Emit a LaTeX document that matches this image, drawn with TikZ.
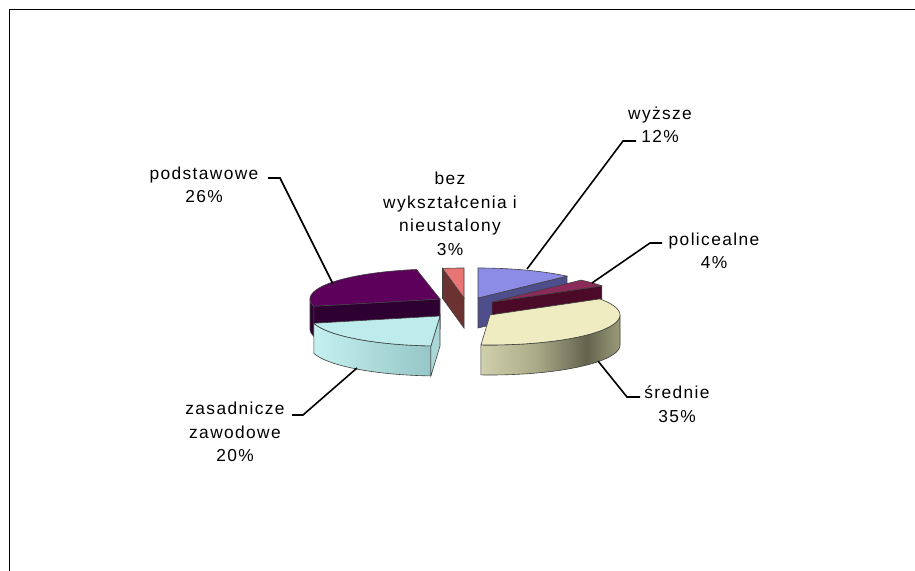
\documentclass[tikz,border=0pt]{standalone}
\usepackage{fontspec}
\newfontfamily\labfont[LetterSpace=8]{Liberation Sans}
\definecolor{podTop}{RGB}{92,0,92}
\definecolor{podSide}{RGB}{46,0,50}
\definecolor{zasTop}{RGB}{190,236,236}
\definecolor{zasL}{RGB}{196,240,240}
\definecolor{zasR}{RGB}{150,198,198}
\definecolor{zasFace}{RGB}{170,214,214}
\definecolor{bezTop}{RGB}{232,116,116}
\definecolor{bezSide}{RGB}{108,50,50}
\definecolor{wyzTop}{RGB}{140,140,230}
\definecolor{wyzSide}{RGB}{78,78,140}
\definecolor{polTop}{RGB}{140,42,90}
\definecolor{polSide}{RGB}{74,10,40}
\definecolor{sreTop}{RGB}{238,236,192}
\definecolor{sreA}{RGB}{208,208,172}
\definecolor{sreB}{RGB}{170,170,136}
\definecolor{sreC}{RGB}{100,100,78}
\definecolor{sreD}{RGB}{155,155,122}
\pgfdeclarehorizontalshading{sreshade}{100bp}{color(0bp)=(sreA); color(25bp)=(sreA); color(45bp)=(sreB); color(63bp)=(sreC); color(75bp)=(sreD); color(100bp)=(sreD)}
\def\rx{130}
\def\ry{30}
\def\hh{30}
\newcommand\slicetop[5]{%
  \path[draw=black!75, line width=0.45pt, fill=#5] (#1,#2) -- plot[domain=#3:#4, samples=40] ({#1+\rx*sin(\x)},{#2-\ry*cos(\x)}) -- cycle;}
\newcommand\sliceside[5]{%
  \path[draw=black!75, line width=0.45pt, #5] plot[domain=#3:#4, samples=40] ({#1+\rx*sin(\x)},{#2-\ry*cos(\x)}) -- plot[domain=#4:#3, samples=40] ({#1+\rx*sin(\x)},{#2+\hh-\ry*cos(\x)}) -- cycle;}
\newcommand\radface[4]{%
  \path[draw=black!75, line width=0.45pt, #4] (#1,#2) -- ({#1+\rx*sin(#3)},{#2-\ry*cos(#3)}) -- ++(0,\hh) -- (#1,#2+\hh) -- cycle;}
\tikzset{
  lab/.style={font={\labfont\fontsize{13}{17.6}\selectfont}, align=center, inner sep=0pt},
  leader/.style={draw=black, line width=1.2pt},
}
\begin{document}
\begin{tikzpicture}[x=0.75pt, y=-0.75pt]
\useasboundingbox (0,0) rectangle (915,571);
\fill[white] (0,0) rectangle (915,571);
% frame
\draw[line width=0.8pt] (9.5,571) -- (9.5,9.5) -- (915,9.5);
% bez wyksztalcenia
\radface{464}{298}{350.5}{fill=bezSide}
\slicetop{464}{298}{350.5}{360}{bezTop}
% wyzsze
\radface{478}{298}{43.2}{fill=wyzSide}
\slicetop{478}{298}{0}{43.2}{wyzTop}
% podstawowe
\sliceside{440}{299}{256}{270}{fill=podSide}
\radface{440}{299}{256}{fill=podSide}
\slicetop{440}{299}{256}{349.6}{podTop}
% policealne
\radface{492}{302}{57.6}{fill=polSide}
\slicetop{492}{302}{43.2}{57.6}{polTop}
% zasadnicze zawodowe
\sliceside{440}{316}{184}{256}{left color=zasL, right color=zasR}
\radface{440}{316}{184}{fill=zasFace}
\slicetop{440}{316}{184}{256}{zasTop}
% srednie
\sliceside{490}{315}{90}{184}{shading=sreshade}
\slicetop{490}{315}{57.6}{184}{sreTop}
% labels
\node[lab] (lpod) at (204,185) {podstawowe\\26\%};
\node[lab] (lbez) at (450,214) {bez\\wykształcenia i\\nieustalony\\3\%};
\node[lab] (lwyz) at (660,125) {wyższe\\12\%};
\node[lab] (lpol) at (714,251) {policealne\\4\%};
\node[lab] (lsre) at (677,404) {średnie\\35\%};
\node[lab] (lzas) at (235,432) {zasadnicze\\zawodowe\\20\%};
% leader points
\coordinate (podA) at (268,178);
\coordinate (podB) at (280,178);
\coordinate (podE) at (333,284);
\coordinate (wyzA) at (636,141);
\coordinate (wyzB) at (623,141);
\coordinate (wyzE) at (527,269);
\coordinate (polA) at (662,243);
\coordinate (polB) at (650,243);
\coordinate (polE) at (592,283);
\coordinate (sreA) at (640,397);
\coordinate (sreB) at (627,397);
\coordinate (sreE) at (598,361);
\coordinate (zasA) at (292,415);
\coordinate (zasB) at (303,415);
\coordinate (zasE) at (357,368);
\draw[leader] (podA) -- (podB) -- (podE);
\draw[leader] (wyzA) -- (wyzB) -- (wyzE);
\draw[leader] (polA) -- (polB) -- (polE);
\draw[leader] (sreA) -- (sreB) -- (sreE);
\draw[leader] (zasA) -- (zasB) -- (zasE);
\end{tikzpicture}
\end{document}
